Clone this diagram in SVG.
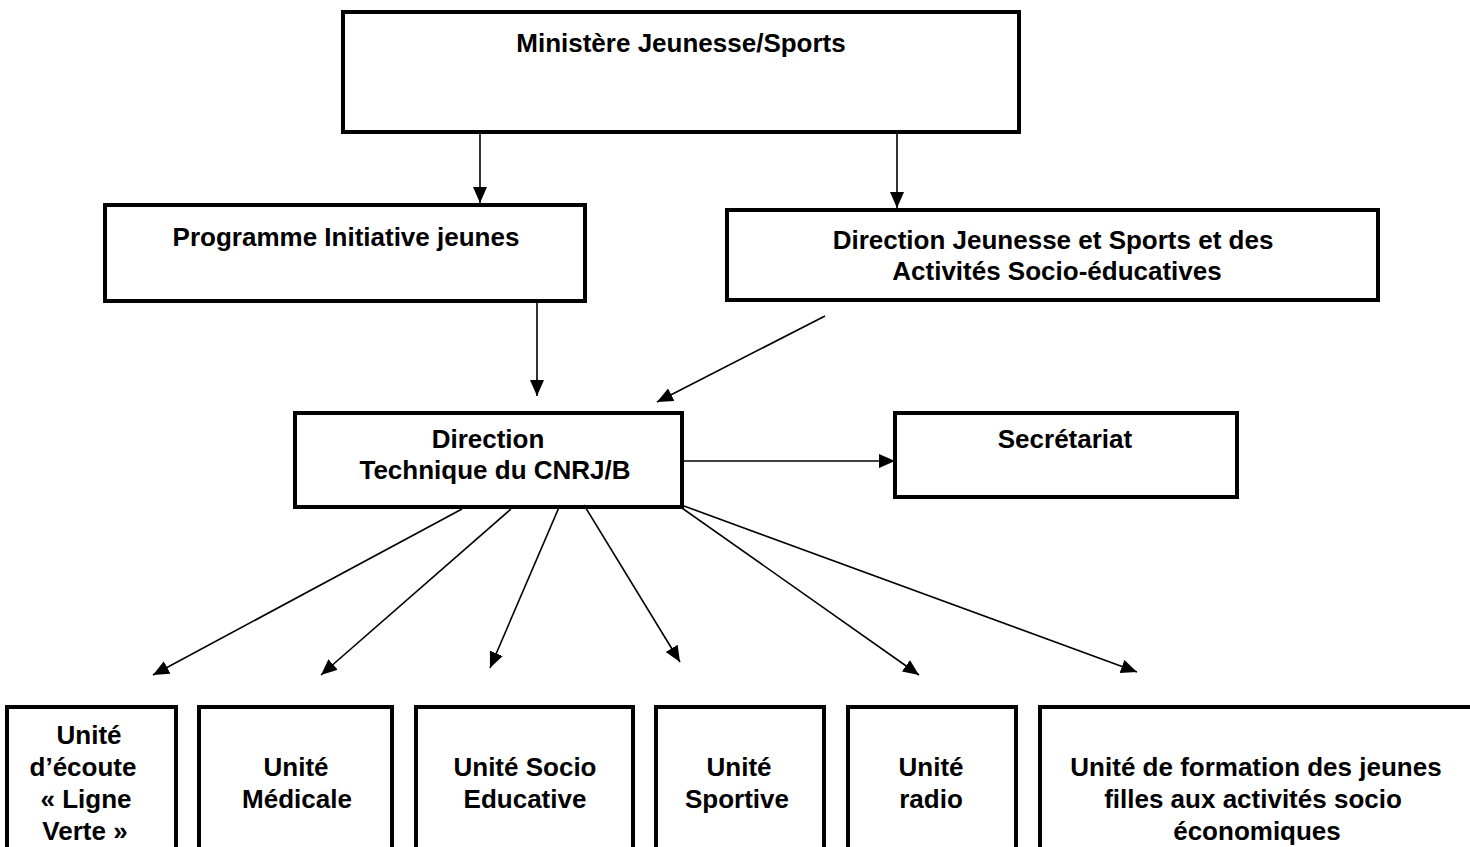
<svg xmlns="http://www.w3.org/2000/svg" width="1470" height="847" viewBox="0 0 1470 847">
<style>
.box{fill:#fff;stroke:#000;stroke-width:4}
.t{font-family:"Liberation Sans",Arial,sans-serif;font-weight:bold;font-size:26px;fill:#000;text-anchor:middle}
.c{stroke:#000;stroke-width:1.6;fill:none;marker-end:url(#ah)}
</style>
<defs>
<marker id="ah" markerUnits="userSpaceOnUse" markerWidth="18" markerHeight="16" refX="16" refY="7" orient="auto">
<path d="M0,0 L16,7 L0,14 z" fill="#000"/>
</marker>
</defs>
<rect width="1470" height="847" fill="#fff"/>
<g id="n-ministere"><rect class="box" x="343" y="12" width="676" height="120"/><text class="t" x="681" y="52">Ministère Jeunesse/Sports</text></g>
<g id="n-programme"><rect class="box" x="105" y="205" width="480" height="96"/><text class="t" x="346" y="246">Programme Initiative jeunes</text></g>
<g id="n-direction-js"><rect class="box" x="727" y="210" width="651" height="90"/><text class="t" x="1053" y="249">Direction Jeunesse et Sports et des</text><text class="t" x="1057" y="280">Activités Socio-éducatives</text></g>
<g id="n-direction-tech"><rect class="box" x="295" y="413" width="387" height="94"/><text class="t" x="488" y="448">Direction</text><text class="t" x="495" y="479">Technique du CNRJ/B</text></g>
<g id="n-secretariat"><rect class="box" x="895" y="413" width="342" height="84"/><text class="t" x="1065" y="448">Secrétariat</text></g>
<g id="n-ecoute"><rect class="box" x="7" y="707" width="169" height="150"/><text class="t" x="89" y="744">Unité</text><text class="t" x="83" y="776">d’écoute</text><text class="t" x="86" y="808">« Ligne</text><text class="t" x="85" y="840">Verte »</text></g>
<g id="n-medicale"><rect class="box" x="199" y="707" width="193" height="150"/><text class="t" x="296" y="776">Unité</text><text class="t" x="297" y="808">Médicale</text></g>
<g id="n-socio"><rect class="box" x="416" y="707" width="217" height="150"/><text class="t" x="525" y="776">Unité Socio</text><text class="t" x="525" y="808">Educative</text></g>
<g id="n-sportive"><rect class="box" x="656" y="707" width="168" height="150"/><text class="t" x="739" y="776">Unité</text><text class="t" x="737" y="808">Sportive</text></g>
<g id="n-radio"><rect class="box" x="848" y="707" width="168" height="150"/><text class="t" x="931" y="776">Unité</text><text class="t" x="931" y="808">radio</text></g>
<g id="n-formation"><rect class="box" x="1040" y="707" width="440" height="150"/><text class="t" x="1256" y="776">Unité de formation des jeunes</text><text class="t" x="1253" y="808">filles aux activités socio</text><text class="t" x="1257" y="840">économiques</text></g>
<g id="connectors">
<line class="c" x1="480" y1="134" x2="480" y2="203"/>
<line class="c" x1="897" y1="134" x2="897" y2="208"/>
<line class="c" x1="537" y1="303" x2="537" y2="396"/>
<line class="c" x1="825" y1="316" x2="657" y2="402"/>
<line class="c" x1="684" y1="461" x2="895" y2="461"/>
<line class="c" x1="462" y1="509" x2="153" y2="675"/>
<line class="c" x1="511" y1="509" x2="321" y2="675"/>
<line class="c" x1="560" y1="505" x2="490" y2="668"/>
<line class="c" x1="584" y1="505" x2="680" y2="662"/>
<line class="c" x1="682" y1="508" x2="919" y2="675"/>
<line class="c" x1="684" y1="506" x2="1137" y2="672"/>
</g>
</svg>
